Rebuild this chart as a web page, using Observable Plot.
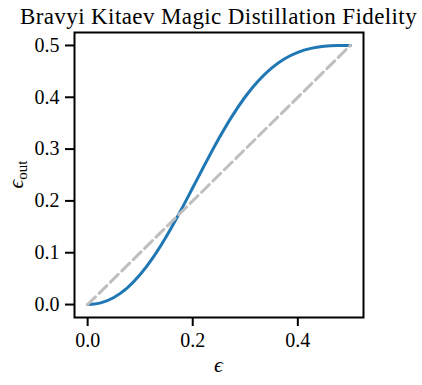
<!DOCTYPE html>
<html>
<head>
<meta charset="utf-8">
<script src="https://cdn.jsdelivr.net/npm/d3@7"></script>
<script src="https://cdn.jsdelivr.net/npm/@observablehq/plot@0.6"></script>
<style>
  html, body { margin: 0; padding: 0; background: white; }
</style>
</head>
<body>
<div id="chart"></div>
<script>
const titleText = "Bravyi Kitaev Magic Distillation Fidelity";
const eps = [0, 0.025, 0.05, 0.075, 0.1, 0.125, 0.15, 0.175, 0.2, 0.225, 0.25, 0.275, 0.3, 0.325, 0.35, 0.375, 0.4, 0.425, 0.45, 0.475, 0.5];
const epsOut = [0, 0.0033, 0.0137, 0.0317, 0.0578, 0.0914, 0.1317, 0.1771, 0.2253, 0.2740, 0.3208, 0.3636, 0.4010, 0.4320, 0.4564, 0.4745, 0.4868, 0.4944, 0.4983, 0.4998, 0.5];
const diagX = [0, 0.5];
const diagY = [0, 0.5];
const xTicks = [0, 0.2, 0.4];
const yTicks = [0, 0.1, 0.2, 0.3, 0.4, 0.5];

const curve = eps.map((e, i) => ({x: e, y: epsOut[i]}));
const diag = diagX.map((e, i) => ({x: e, y: diagY[i]}));

const W = 422, H = 385;
const mL = 74, mR = 59, mT = 32, mB = 68;
const font = "'Liberation Serif', 'DejaVu Serif', serif";

const chart = Plot.plot({
  width: W, height: H,
  marginLeft: mL, marginRight: mR, marginTop: mT, marginBottom: mB,
  x: {domain: [-0.025, 0.525]},
  y: {domain: [-0.025, 0.525]},
  style: {fontFamily: font, fontSize: "20px", color: "black", background: "white", overflow: "visible"},
  marks: [
    Plot.axisX({ticks: xTicks, tickSize: 9, tickPadding: 6, tickFormat: d => d.toFixed(1), label: null, strokeWidth: 2, fontSize: 20}),
    Plot.axisY({ticks: yTicks, tickSize: 9, tickPadding: 6, tickFormat: d => d.toFixed(1), label: null, strokeWidth: 2, fontSize: 20}),
    Plot.line(curve, {x: "x", y: "y", stroke: "#1f77b4", strokeWidth: 3, curve: "monotone-x"}),
    Plot.line(diag, {x: "x", y: "y", stroke: "#bfbfbf", strokeWidth: 3, strokeDasharray: "11,5"}),
    Plot.frame({stroke: "black", strokeWidth: 2})
  ]
});

document.getElementById("chart").appendChild(chart);

const svg = d3.select(chart);
const cx = mL + (W - mL - mR) / 2;
const cy = mT + (H - mT - mB) / 2;

svg.append("text")
  .attr("x", cx).attr("y", 24)
  .attr("text-anchor", "middle")
  .attr("font-family", font)
  .attr("font-size", 23)
  .attr("letter-spacing", 0.4)
  .attr("fill", "black")
  .text(titleText);

svg.append("text")
  .attr("x", cx).attr("y", 372)
  .attr("text-anchor", "middle")
  .attr("font-family", font)
  .attr("font-size", 22)
  .attr("font-style", "italic")
  .attr("fill", "black")
  .text("ϵ");

const yl = svg.append("text")
  .attr("transform", `translate(23,${cy}) rotate(-90)`)
  .attr("text-anchor", "middle")
  .attr("font-family", font)
  .attr("font-size", 22)
  .attr("fill", "black");
yl.append("tspan").attr("font-style", "italic").text("ϵ");
yl.append("tspan").attr("font-size", 15).attr("dy", 4).text("out");
</script>
</body>
</html>
